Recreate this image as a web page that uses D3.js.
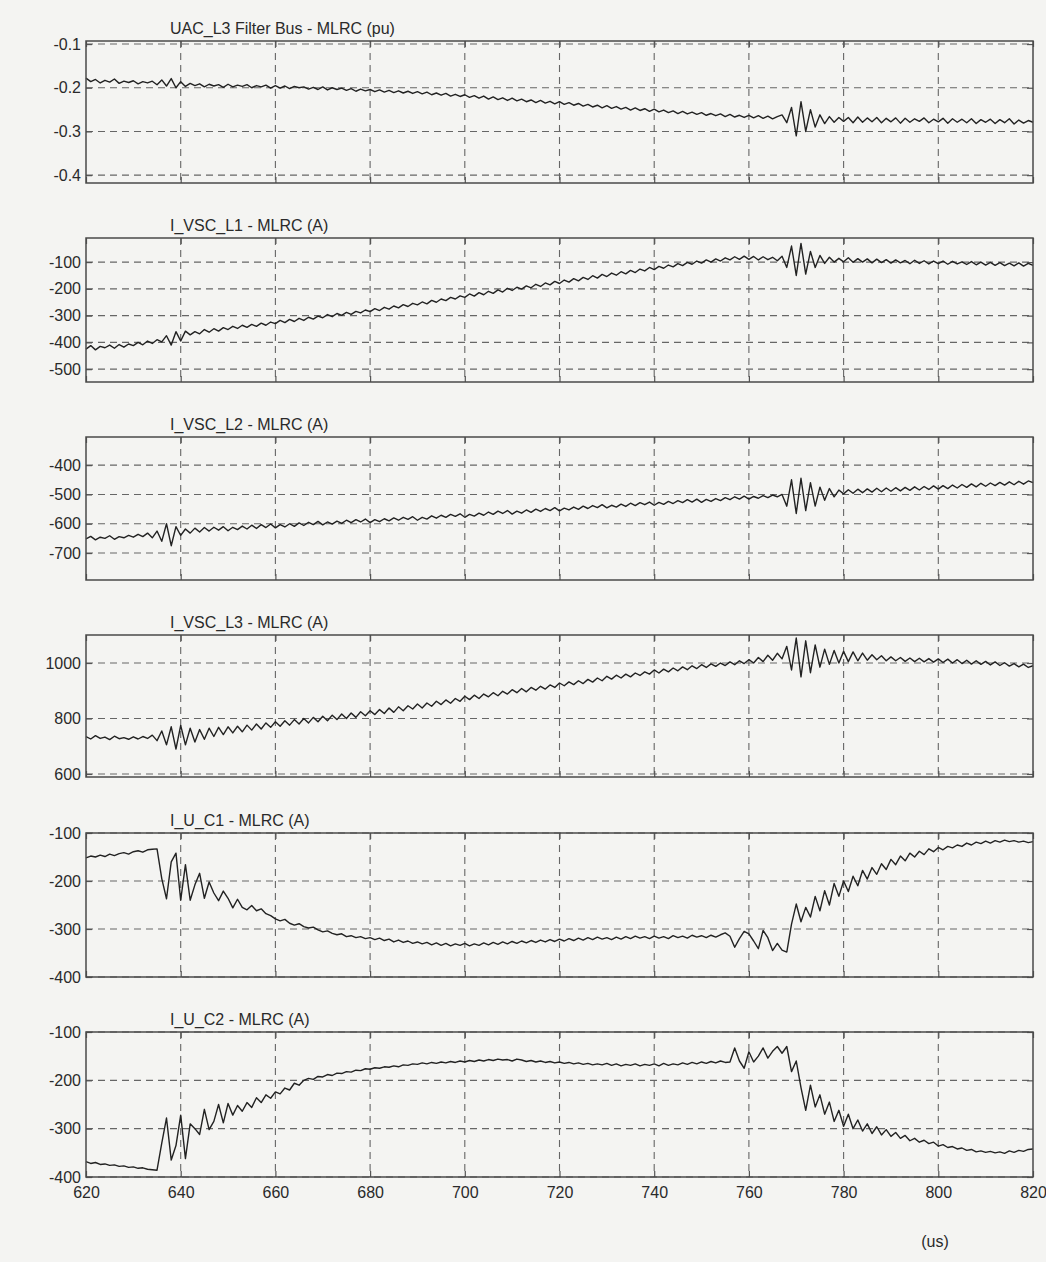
<!DOCTYPE html>
<html>
<head>
<meta charset="utf-8">
<script src="https://cdn.jsdelivr.net/npm/d3@7"></script>
<style>
  body { margin: 0; background: #f4f4f2; }
  svg { display: block; }
  .tick text { font-family: "Liberation Sans", Arial, sans-serif; font-size: 16px; fill: #2a2a2a; }
  .tick line { stroke: #555; stroke-width: 1.2; }
  .title { font-family: "Liberation Sans", Arial, sans-serif; font-size: 16px; fill: #2a2a2a; }
</style>
</head>
<body>
<div id="chart"></div>
<script>
// sample instants in us (1 us step)
const times = d3.range(620, 821);
const xTicks = [620, 640, 660, 680, 700, 720, 740, 760, 780, 800, 820];

const titles = [
    "UAC_L3 Filter Bus - MLRC (pu)",
    "I_VSC_L1 - MLRC (A)",
    "I_VSC_L2 - MLRC (A)",
    "I_VSC_L3 - MLRC (A)",
    "I_U_C1 - MLRC (A)",
    "I_U_C2 - MLRC (A)"
];

const yTicks = [
    [-0.1, -0.2, -0.3, -0.4],
    [-100, -200, -300, -400, -500],
    [-400, -500, -600, -700],
    [1000, 800, 600],
    [-100, -200, -300, -400],
    [-100, -200, -300, -400]
];

const yDomains = [
    [-0.418, -0.093],
    [-548, -10],
    [-792, -304],
    [589, 1101],
    [-400, -100],
    [-400, -100]
];

const uacL3 = [
    -0.178, -0.186, -0.181, -0.189, -0.183, -0.187, -0.180, -0.190, -0.185, -0.188,
    -0.184, -0.191, -0.186, -0.189, -0.185, -0.193, -0.182, -0.196, -0.179, -0.200,
    -0.186, -0.197, -0.190, -0.195, -0.191, -0.198, -0.192, -0.196, -0.193, -0.199,
    -0.192, -0.198, -0.194, -0.197, -0.193, -0.200, -0.195, -0.198, -0.194, -0.201,
    -0.195, -0.201, -0.196, -0.202, -0.197, -0.200, -0.198, -0.203, -0.199, -0.204,
    -0.198, -0.205, -0.200, -0.204, -0.201, -0.206, -0.202, -0.208, -0.203, -0.207,
    -0.204, -0.209, -0.205, -0.210, -0.206, -0.211, -0.207, -0.212, -0.208, -0.213,
    -0.209, -0.214, -0.210, -0.216, -0.212, -0.217, -0.213, -0.219, -0.215, -0.220,
    -0.216, -0.222, -0.218, -0.224, -0.219, -0.226, -0.221, -0.227, -0.223, -0.229,
    -0.224, -0.230, -0.226, -0.232, -0.228, -0.234, -0.229, -0.235, -0.231, -0.237,
    -0.232, -0.238, -0.234, -0.240, -0.236, -0.242, -0.238, -0.244, -0.240, -0.246,
    -0.241, -0.247, -0.243, -0.249, -0.245, -0.251, -0.246, -0.252, -0.248, -0.254,
    -0.249, -0.255, -0.251, -0.257, -0.253, -0.259, -0.254, -0.260, -0.256, -0.261,
    -0.257, -0.263, -0.259, -0.264, -0.260, -0.266, -0.261, -0.267, -0.263, -0.268,
    -0.263, -0.269, -0.264, -0.270, -0.265, -0.271, -0.266, -0.262, -0.280, -0.245,
    -0.310, -0.232, -0.300, -0.250, -0.290, -0.262, -0.282, -0.266, -0.279, -0.268,
    -0.277, -0.268, -0.280, -0.267, -0.279, -0.269, -0.278, -0.268, -0.280, -0.270,
    -0.278, -0.269, -0.281, -0.270, -0.279, -0.271, -0.277, -0.269, -0.280, -0.272,
    -0.278, -0.270, -0.281, -0.271, -0.279, -0.272, -0.280, -0.271, -0.282, -0.273,
    -0.279, -0.272, -0.282, -0.273, -0.280, -0.271, -0.283, -0.274, -0.281, -0.275,
    -0.279
];

const iVscL1 = [
    -425, -412, -428, -415, -420, -410, -422, -408, -418, -406,
    -412, -400, -409, -395, -404, -390, -398, -375, -410, -360,
    -395, -358, -372, -360, -368, -352, -362, -349, -358, -345,
    -352, -340, -348, -336, -344, -333, -340, -328, -336, -324,
    -330, -318, -326, -314, -322, -310, -318, -306, -313, -302,
    -308, -296, -304, -292, -299, -288, -295, -284, -290, -279,
    -285, -274, -281, -269, -276, -264, -271, -259, -266, -254,
    -260, -249, -256, -243, -250, -238, -244, -232, -238, -226,
    -232, -219, -227, -214, -222, -209, -217, -204, -212, -198,
    -206, -194, -201, -189, -196, -183, -191, -178, -185, -172,
    -180, -167, -175, -162, -170, -157, -165, -151, -160, -146,
    -154, -141, -149, -136, -144, -131, -139, -126, -133, -120,
    -128, -116, -123, -111, -118, -106, -113, -101, -108, -96,
    -104, -92, -100, -88, -96, -84, -92, -80, -90, -78,
    -90, -79, -92, -80, -91, -82, -95, -78, -120, -40,
    -150, -30, -145, -60, -120, -75, -105, -82, -100, -86,
    -99, -84, -101, -87, -100, -88, -103, -89, -102, -91,
    -104, -92, -103, -94, -106, -93, -105, -95, -107, -96,
    -106, -96, -108, -97, -107, -99, -109, -98, -110, -100,
    -111, -101, -112, -102, -113, -104, -114, -103, -115, -105,
    -112
];

const iVscL2 = [
    -652, -643, -655, -646, -650, -641, -653, -644, -648, -640,
    -646, -636, -644, -632, -648, -625, -660, -600, -675, -610,
    -640, -618, -632, -615, -628, -613, -625, -612, -622, -610,
    -624, -612, -620, -608, -618, -605, -616, -603, -613, -601,
    -614, -603, -611, -600, -609, -597, -606, -595, -603, -592,
    -604, -594, -601, -591, -599, -588, -596, -586, -594, -584,
    -596, -586, -593, -583, -590, -580, -588, -578, -585, -576,
    -588, -578, -584, -573, -581, -571, -578, -568, -575, -566,
    -578, -568, -574, -564, -571, -560, -568, -557, -565, -555,
    -567, -557, -564, -553, -561, -550, -558, -548, -555, -545,
    -556, -547, -553, -543, -551, -540, -548, -538, -545, -535,
    -546, -537, -543, -533, -541, -530, -538, -528, -535, -526,
    -537, -527, -534, -524, -531, -521, -528, -518, -526, -516,
    -527, -517, -524, -514, -521, -511, -518, -508, -516, -506,
    -516, -507, -513, -504, -511, -502, -508, -500, -540, -450,
    -565, -445, -555, -460, -540, -475, -520, -480, -508, -485,
    -498, -484, -496, -482, -494, -481, -492, -479, -491, -478,
    -489, -477, -488, -476, -486, -474, -485, -473, -483, -471,
    -482, -470, -480, -468, -478, -466, -476, -464, -474, -462,
    -472, -461, -470, -459, -468, -457, -467, -455, -465, -454,
    -460
];

const iVscL3 = [
    735, 726, 738, 728, 733, 724, 736, 727, 731, 725,
    734, 726, 735, 728, 740, 720, 755, 705, 770, 690,
    775, 705, 765, 715, 760, 725, 765, 735, 768, 742,
    770, 748, 772, 752, 776, 758, 780, 762, 784, 768,
    788, 772, 792, 776, 796, 780, 800, 784, 804, 788,
    808, 792, 812, 796, 816, 800, 820, 804, 824, 810,
    828, 814, 832, 818, 838, 822, 842, 828, 846, 834,
    852, 838, 856, 844, 862, 850, 867, 855, 872, 862,
    880, 868, 884, 872, 888, 878, 893, 882, 898, 888,
    904, 893, 908, 896, 912, 902, 916, 906, 921, 912,
    928, 918, 932, 922, 936, 926, 941, 931, 946, 936,
    952, 942, 956, 946, 960, 950, 964, 955, 968, 960,
    975, 964, 978, 968, 982, 972, 986, 976, 990, 980,
    994, 984, 997, 988, 1000, 991, 1004, 994, 1008, 998,
    1012, 1000, 1020, 1005, 1028, 1010, 1035, 1015, 1060, 975,
    1090, 950, 1080, 965, 1065, 985, 1050, 995, 1045, 1000,
    1042, 1005, 1040, 1008, 1036, 1010, 1030, 1012, 1026, 1008,
    1022, 1008, 1020, 1006, 1018, 1005, 1017, 1004, 1016, 1003,
    1015, 1002, 1014, 1000, 1012, 998, 1010, 996, 1008, 995,
    1006, 993, 1004, 991, 1001, 989, 998, 986, 996, 984,
    990
];

const iUC1 = [
    -152, -148, -150, -146, -149, -144, -147, -143, -141, -144,
    -139, -137, -140, -135, -134, -133, -195, -237, -160, -142,
    -240, -166, -240, -208, -184, -236, -202, -225, -241, -221,
    -236, -256, -238, -255, -260, -251, -262, -258, -268, -272,
    -279, -283, -280, -288, -292, -289, -295, -298, -296, -302,
    -306, -304, -309, -312, -310, -316, -314, -318, -316, -320,
    -318, -322, -319, -324, -321, -327, -323, -328, -325, -330,
    -327, -331, -328, -333, -329, -334, -330, -335, -331, -334,
    -330, -335, -331, -334, -329, -333, -328, -332, -327, -331,
    -326, -330, -325, -329, -324, -328, -323, -327, -322, -326,
    -321, -325, -320, -324, -319, -323, -318, -322, -317, -321,
    -318, -322, -317, -321, -316, -320, -315, -319, -316, -320,
    -315, -319, -316, -320, -314, -318, -315, -319, -313, -317,
    -314, -318, -313, -317, -312, -308, -315, -338, -320, -305,
    -310, -325, -341, -303, -318, -345, -330, -344, -348, -290,
    -248, -285, -255, -275, -232, -262, -220, -250, -205, -232,
    -200, -222, -190, -210, -178, -196, -172, -186, -164, -176,
    -155, -166, -148, -158, -142, -150, -138, -145, -133, -139,
    -130, -135, -128, -131, -125, -128, -121, -125, -119, -122,
    -117, -121, -116, -119, -115, -118, -116, -119, -117, -120,
    -118
];

const iUC2 = [
    -368, -372, -370, -374, -373, -376, -375, -378, -377, -380,
    -379, -382, -381, -384, -385, -386, -330, -278, -365, -335,
    -272, -362, -290, -300, -312, -260, -302, -285, -250, -288,
    -248, -272, -252, -264, -246, -256, -236, -246, -230, -237,
    -224, -228, -216, -220, -206, -210, -200, -196, -198, -192,
    -193, -188, -190, -185, -186, -182, -183, -179, -180, -176,
    -177, -174, -175, -172, -173, -170, -172, -168, -169, -166,
    -167, -164, -166, -163, -165, -162, -164, -161, -163, -160,
    -162, -159, -161, -158, -160, -157, -159, -156, -158, -157,
    -160, -156, -158, -161, -159, -162, -160, -163, -161, -164,
    -162, -165, -163, -166, -164, -167, -165, -168, -166, -168,
    -165, -169, -166, -170, -167, -169, -166, -170, -167, -169,
    -166, -170, -165, -169, -166, -168, -164, -167, -163, -166,
    -162, -165, -161, -164, -160, -163, -162, -133, -160, -175,
    -141, -162, -150, -133, -154, -140, -130, -144, -130, -182,
    -160, -215, -262, -210, -255, -230, -270, -245, -285, -262,
    -295, -270, -300, -282, -305, -290, -310, -296, -313, -302,
    -316, -308, -320, -314, -325, -320, -328, -324, -331, -328,
    -336, -333, -339, -337, -342, -340, -345, -343, -348, -346,
    -349, -347, -350, -348, -351, -346, -349, -345, -347, -343,
    -342
];

const series = [uacL3, iVscL1, iVscL2, iVscL3, iUC1, iUC2];

// layout
const width = 1046, height = 1262;
const left = 86, right = 1033;
const panelTop = [41, 238, 437, 635, 833, 1032];
const panelBottom = [183, 382, 580, 777, 977, 1177];

const svg = d3.select("#chart")
    .append("svg")
    .attr("width", width)
    .attr("height", height);

svg.append("rect")
    .attr("width", width)
    .attr("height", height)
    .attr("fill", "#f4f4f2");

const x = d3.scaleLinear().domain([620, 820]).range([left, right]);

series.forEach((values, i) => {
    const top = panelTop[i], bottom = panelBottom[i];
    const y = d3.scaleLinear().domain(yDomains[i]).range([bottom, top]);
    const g = svg.append("g");

    // dashed grid
    g.selectAll(".hgrid")
        .data(yTicks[i])
        .enter().append("line")
        .attr("x1", left).attr("x2", right)
        .attr("y1", d => y(d)).attr("y2", d => y(d))
        .attr("stroke", "#666")
        .attr("stroke-width", 1.1)
        .attr("stroke-dasharray", "7,5");

    g.selectAll(".vgrid")
        .data(xTicks.slice(1, -1))
        .enter().append("line")
        .attr("x1", d => x(d)).attr("x2", d => x(d))
        .attr("y1", top).attr("y2", bottom)
        .attr("stroke", "#666")
        .attr("stroke-width", 1.1)
        .attr("stroke-dasharray", "7,5");

    // axes (inward ticks)
    const yLeft = g.append("g")
        .attr("transform", `translate(${left},0)`)
        .call(d3.axisLeft(y).tickValues(yTicks[i]).tickSize(-6).tickPadding(5).tickFormat(d => String(d)));
    const yRight = g.append("g")
        .attr("transform", `translate(${right},0)`)
        .call(d3.axisRight(y).tickValues(yTicks[i]).tickSize(-6).tickFormat(""));
    const xTop = g.append("g")
        .attr("transform", `translate(0,${top})`)
        .call(d3.axisTop(x).tickValues(xTicks).tickSize(-6).tickFormat(""));
    const xBottom = g.append("g")
        .attr("transform", `translate(0,${bottom})`)
        .call(d3.axisBottom(x).tickValues(xTicks).tickSize(-6).tickPadding(10)
            .tickFormat(i === series.length - 1 ? d => String(d) : ""));
    [yLeft, yRight, xTop, xBottom].forEach(a => {
        a.select(".domain").remove();
        a.attr("font-family", null).attr("font-size", null);
    });

    // signal
    const line = d3.line()
        .x((d, k) => x(times[k]))
        .y(d => y(d));
    g.append("path")
        .datum(values)
        .attr("d", line)
        .attr("fill", "none")
        .attr("stroke", "#222")
        .attr("stroke-width", 1.4)
        .attr("stroke-linejoin", "round");

    // frame
    g.append("rect")
        .attr("x", left).attr("y", top)
        .attr("width", right - left).attr("height", bottom - top)
        .attr("fill", "none")
        .attr("stroke", "#4a4a4a")
        .attr("stroke-width", 1.5);

    g.append("text")
        .attr("class", "title")
        .attr("x", 170)
        .attr("y", top - 7)
        .text(titles[i]);
});

svg.append("text")
    .attr("class", "title")
    .attr("x", 935)
    .attr("y", 1247)
    .attr("text-anchor", "middle")
    .text("(us)");
</script>
</body>
</html>
